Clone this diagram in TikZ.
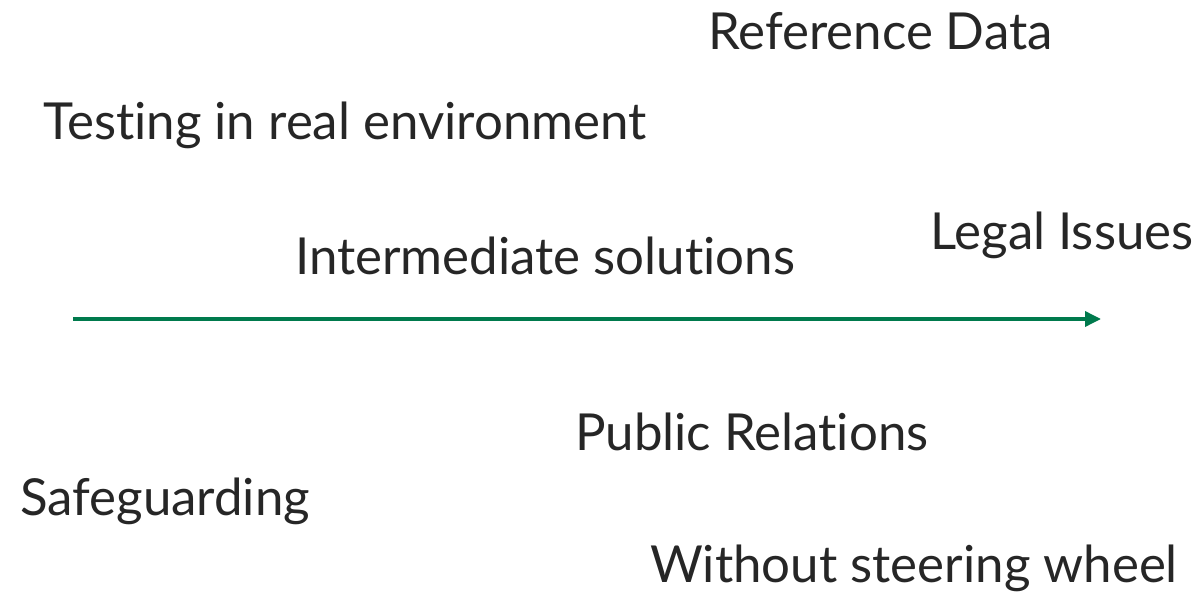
\documentclass[tikz,border=0pt]{standalone}
\usepackage{fontspec}
\setmainfont[Ligatures=NoCommon]{Lato}
\usetikzlibrary{arrows.meta}
\definecolor{arrowgreen}{HTML}{007A4D}
\definecolor{labelgray}{HTML}{262626}
\tikzset{
  label text/.style={anchor=base west, inner sep=0pt, text=labelgray,
    font=\fontsize{51}{61}\selectfont},
  time arrow/.style={draw=arrowgreen, line width=3.5pt,
    -{Triangle[length=16pt,width=15pt]}}
}

\begin{document}
\begin{tikzpicture}[x=1pt,y=-1pt]
    \useasboundingbox (0,0) rectangle (1204,593);
    \node[label text] (refdata) at (708,50) {Reference Data};
    \node[label text] (testing) at (43,140) {Testing in real environment};
    \node[label text] (legal) at (930,250) {Legal Issues};
    \node[label text] (intermediate) at (295,275) {Intermediate solutions};
    \node[label text] (public) at (575,450) {Public Relations};
    \node[label text] (safeguard) at (20,515) {Safeguarding};
    \node[label text] (steering) at (650,582) {Without steering wheel};
    \coordinate (arrowstart) at (73,319);
    \coordinate (arrowend) at (1101,319);
    \draw[time arrow] (arrowstart) -- (arrowend);
  \end{tikzpicture}
\end{document}
